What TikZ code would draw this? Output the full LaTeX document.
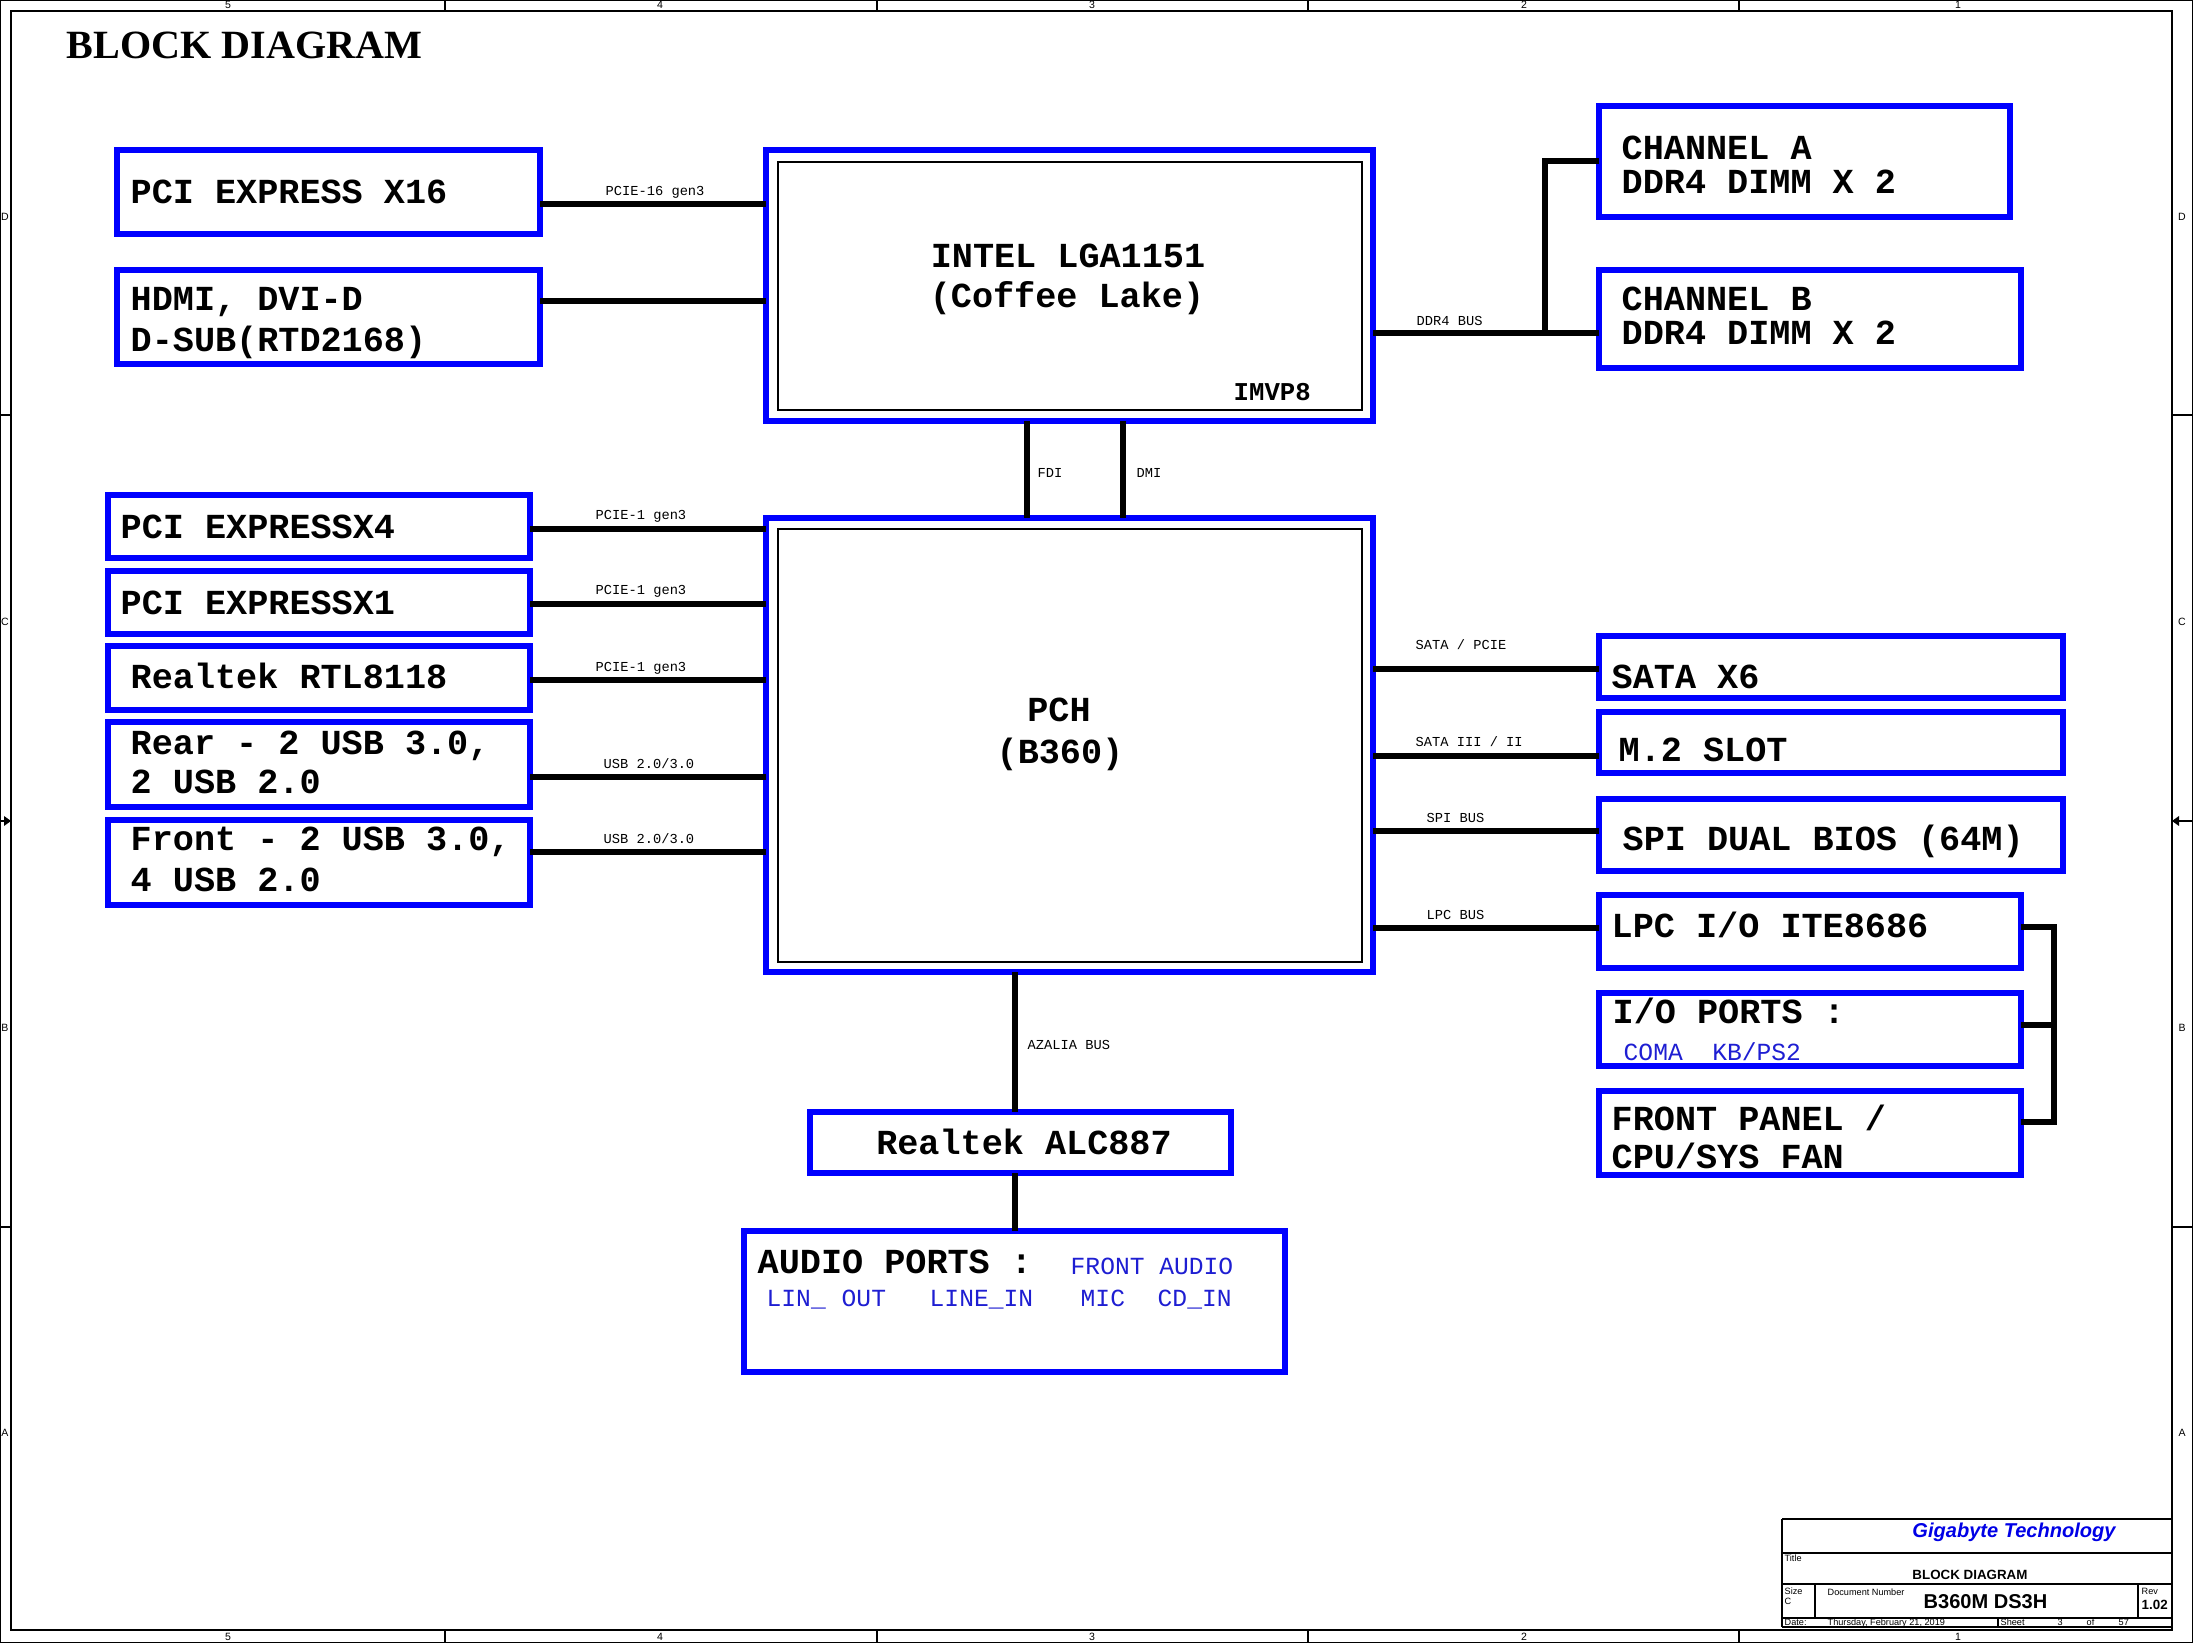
\documentclass[tikz,border=0pt]{standalone}
\usepackage{fontspec}
\usetikzlibrary{fit}
\newfontfamily\monoF{Liberation Mono}
\newfontfamily\sansF{Liberation Sans}
\newfontfamily\serifF{Liberation Serif}
\definecolor{boxblue}{RGB}{0,0,255}
\definecolor{portblue}{RGB}{30,30,210}
\definecolor{gigablue}{RGB}{0,0,230}
\tikzset{
  blk/.style={draw=boxblue, line width=1.7pt, inner sep=0pt, outer sep=0pt},
  wire/.style={line width=1.85pt, black},
  bt/.style={font=\monoF\bfseries\fontsize{10}{12}\selectfont, inner sep=0pt, text height=6.6pt, text depth=0pt, anchor=west},
  btc/.style={bt, anchor=center},
  lbl/.style={font=\monoF\fontsize{3.9}{4.5}\selectfont, inner sep=0pt, text height=2.6pt, text depth=0pt, anchor=west},
  prt/.style={font=\monoF\fontsize{7}{8}\selectfont, text=portblue, inner sep=0pt, text height=4.6pt, text depth=0pt, anchor=west},
  tb/.style={font=\sansF\fontsize{2.6}{3}\selectfont, inner sep=0pt, text height=1.9pt, text depth=0pt, anchor=west},
  fr/.style={font=\sansF\fontsize{3}{3.5}\selectfont, inner sep=0pt},
  thinln/.style={line width=0.5pt, black},
}
\begin{document}
\begin{tikzpicture}[x=0.01cm, y=-0.01cm]
\useasboundingbox (0,0) rectangle (2193,1643);
% ---------- frame ----------
\draw[thinln] (0.5,0.5) rectangle (2192.5,1642.5);
\draw[thinln] (11,11) rectangle (2172,1630);
\foreach \x in {445,877,1308,1739} {
  \draw[line width=0.3pt] (\x,0) -- (\x,11);
  \draw[line width=0.3pt] (\x,1630) -- (\x,1643);
}
\foreach \y in {415,1227} {
  \draw[line width=0.3pt] (0,\y) -- (11,\y);
  \draw[line width=0.3pt] (2172,\y) -- (2193,\y);
}
\foreach \x/\n in {228/5,660/4,1092/3,1524/2,1958/1} {
  \node[fr] (ct\n) at (\x,5) {\n};
  \node[fr] (cb\n) at (\x,1637) {\n};
}
\foreach \y/\l in {217/D,622/C,1028/B,1433/A} {
  \node[fr] (rl\l) at (5,\y) {\l};
  \node[fr] (rr\l) at (2182,\y) {\l};
}
\draw[line width=0.4pt] (0,821) -- (4,821);
\fill (4,816) -- (11,821) -- (4,826) -- cycle;
\draw[line width=0.4pt] (2193,821) -- (2179,821);
\fill (2179,816) -- (2172,821) -- (2179,826) -- cycle;
% ---------- title ----------
\node[font=\serifF\bfseries\fontsize{11.4}{13}\selectfont, inner sep=0pt, text height=7.5pt, text depth=0pt, anchor=west] (title) at (66,45) {BLOCK DIAGRAM};
% ---------- boxes ----------
\node[blk, fit={(117,150) (540,234)}] (x16) {};
\node[bt] (x16t) at (130,192) {PCI EXPRESS X16};
\node[blk, fit={(117,270) (540,364)}] (hdmi) {};
\node[bt] (hdmit1) at (130,299) {HDMI, DVI-D};
\node[bt] (hdmit2) at (130,340) {D-SUB(RTD2168)};

\node[blk, fit={(766,150) (1373,421)}] (cpu) {};
\draw[line width=0.4pt] (778,162) rectangle (1362,410);
\node[btc] (cput1) at (1068,256) {INTEL LGA1151};
\node[btc] (cput2) at (1067,296) {(Coffee Lake)};
\node[font=\monoF\bfseries\fontsize{7.3}{8}\selectfont, inner sep=0pt, text height=4.8pt, text depth=0pt, anchor=west] (imvp) at (1233,392) {IMVP8};

\node[blk, fit={(1599,106) (2010,217)}] (cha) {};
\node[bt] (chat1) at (1621,148) {CHANNEL A};
\node[bt] (chat2) at (1621,182) {DDR4 DIMM X 2};
\node[blk, fit={(1599,270) (2021,368)}] (chb) {};
\node[bt] (chbt1) at (1621,299) {CHANNEL B};
\node[bt] (chbt2) at (1621,333) {DDR4 DIMM X 2};

\node[blk, fit={(108,495) (530,558)}] (px4) {};
\node[bt] (px4t) at (120,527) {PCI EXPRESSX4};
\node[blk, fit={(108,571) (530,634)}] (px1) {};
\node[bt] (px1t) at (120,603) {PCI EXPRESSX1};
\node[blk, fit={(108,646) (530,710)}] (rtl) {};
\node[bt] (rtlt) at (130,677) {Realtek RTL8118};
\node[blk, fit={(108,722) (530,807)}] (rear) {};
\node[bt] (reart1) at (130,743) {Rear - 2 USB 3.0,};
\node[bt] (reart2) at (130,782) {2 USB 2.0};
\node[blk, fit={(108,820) (530,905)}] (front) {};
\node[bt] (frontt1) at (130,839) {Front - 2 USB 3.0,};
\node[bt] (frontt2) at (130,880) {4 USB 2.0};

\node[blk, fit={(766,518) (1373,972)}] (pch) {};
\draw[line width=0.4pt] (778,529) rectangle (1362,962);
\node[btc] (pcht1) at (1059,710) {PCH};
\node[btc] (pcht2) at (1060,752) {(B360)};

\node[blk, fit={(1599,636) (2063,698)}] (sata) {};
\node[bt] (satat) at (1611,677) {SATA X6};
\node[blk, fit={(1599,712) (2063,773)}] (m2) {};
\node[bt] (m2t) at (1618,750) {M.2 SLOT};
\node[blk, fit={(1599,799) (2063,871)}] (spi) {};
\node[bt] (spit) at (1622,839) {SPI DUAL BIOS (64M)};
\node[blk, fit={(1599,895) (2021,968)}] (lpc) {};
\node[bt] (lpct) at (1611,926) {LPC I/O ITE8686};
\node[blk, fit={(1599,993) (2021,1066)}] (io) {};
\node[bt] (iot) at (1612,1012) {I/O PORTS :};
\node[prt] (iop) at (1623,1052) {COMA\ \ KB/PS2};
\node[blk, fit={(1599,1091) (2021,1175)}] (fp) {};
\node[bt] (fpt1) at (1611,1119) {FRONT PANEL /};
\node[bt] (fpt2) at (1611,1157) {CPU/SYS FAN};

\node[blk, fit={(810,1112) (1231,1173)}] (alc) {};
\node[btc] (alct) at (1024,1143) {Realtek ALC887};
\node[blk, fit={(744,1231) (1285,1372)}] (aud) {};
\node[bt] (audt) at (757,1262) {AUDIO PORTS :};
\node[prt] (aud1) at (1070,1266) {FRONT AUDIO};
\node[prt] (aud2) at (766,1298) {LIN\_};
\node[prt] (aud3) at (841,1298) {OUT};
\node[prt] (aud4) at (929,1298) {LINE\_IN};
\node[prt] (aud5) at (1080,1298) {MIC};
\node[prt] (aud6) at (1157,1298) {CD\_IN};
% ---------- connectors ----------
\draw[wire] (x16.east |- 0,204) -- (cpu.west |- 0,204);
\node[lbl] (l1) at (605,191) {PCIE-16 gen3};
\draw[wire] (hdmi.east |- 0,301) -- (cpu.west |- 0,301);

\coordinate (ddrj) at (1545,333);
\draw[wire] (cpu.east |- ddrj) -- (chb.west |- ddrj);
\draw[wire] (cha.west |- 0,161) -| (ddrj);
\node[lbl] (l2) at (1416,321) {DDR4 BUS};

\draw[wire] (cpu.south -| 1027,0) -- (pch.north -| 1027,0);
\draw[wire] (cpu.south -| 1123,0) -- (pch.north -| 1123,0);
\node[lbl] (l3) at (1037,473) {FDI};
\node[lbl] (l4) at (1136,473) {DMI};

\draw[wire] (px4.east |- 0,529) -- (pch.west |- 0,529);
\node[lbl] (l5) at (595,515) {PCIE-1 gen3};
\draw[wire] (px1.east |- 0,604) -- (pch.west |- 0,604);
\node[lbl] (l6) at (595,590) {PCIE-1 gen3};
\draw[wire] (rtl.east |- 0,680) -- (pch.west |- 0,680);
\node[lbl] (l7) at (595,667) {PCIE-1 gen3};
\draw[wire] (rear.east |- 0,777) -- (pch.west |- 0,777);
\node[lbl] (l8) at (603,764) {USB 2.0/3.0};
\draw[wire] (front.east |- 0,852) -- (pch.west |- 0,852);
\node[lbl] (l9) at (603,839) {USB 2.0/3.0};

\draw[wire] (pch.east |- 0,669) -- (sata.west |- 0,669);
\node[lbl] (l10) at (1415,645) {SATA / PCIE};
\draw[wire] (pch.east |- 0,756) -- (m2.west |- 0,756);
\node[lbl] (l11) at (1415,742) {SATA III / II};
\draw[wire] (pch.east |- 0,831) -- (spi.west |- 0,831);
\node[lbl] (l12) at (1426,818) {SPI BUS};
\draw[wire] (pch.east |- 0,928) -- (lpc.west |- 0,928);
\node[lbl] (l13) at (1426,915) {LPC BUS};

\coordinate (lpcj) at (2054,1122);
\draw[wire] (lpc.east |- 0,927) -| (lpcj) -- (fp.east |- lpcj);
\draw[wire] (io.east |- 0,1025) -- (lpcj |- 0,1025);

\draw[wire] (pch.south -| 1015,0) -- (alc.north -| 1015,0);
\node[lbl] (l14) at (1027,1045) {AZALIA BUS};
\draw[wire] (alc.south -| 1015,0) -- (aud.north -| 1015,0);
% ---------- title block ----------
\draw[thinln] (1782,1519) -- (2172,1519);
\draw[thinln] (1782,1519) -- (1782,1627);
\draw[thinln] (1782,1553) -- (2172,1553);
\draw[thinln] (1782,1584) -- (2172,1584);
\draw[thinln] (1782,1618) -- (2172,1618);
\draw[thinln] (1782,1627) -- (2172,1627);
\draw[thinln] (1815,1584) -- (1815,1618);
\draw[thinln] (2138,1584) -- (2138,1618);
\draw[thinln] (1998,1618) -- (1998,1627);
\node[font=\sansF\bfseries\itshape\fontsize{5.7}{7}\selectfont, text=gigablue, inner sep=0pt] (giga) at (2014,1532) {Gigabyte Technology};
\node[tb] (tbt) at (1784,1558) {Title};
\node[font=\sansF\bfseries\fontsize{3.8}{4.5}\selectfont, inner sep=0pt] (tbname) at (1970,1575) {BLOCK DIAGRAM};
\node[tb] (tbs) at (1784,1591) {Size};
\node[tb] (tbc) at (1784,1601) {C};
\node[tb] (tbd) at (1827,1592) {Document Number};
\node[font=\sansF\bfseries\fontsize{5.7}{7}\selectfont, inner sep=0pt, anchor=west] (tbnum) at (1923,1602) {B360M DS3H};
\node[tb] (tbr) at (2141,1591) {Rev};
\node[font=\sansF\bfseries\fontsize{3.8}{4.5}\selectfont, inner sep=0pt, anchor=west] (tbrv) at (2141,1605) {1.02};
\node[tb] (tbdt) at (1784,1622) {Date:};
\node[tb] (tbdate) at (1827,1622) {Thursday, February 21, 2019};
\node[tb] (tbsh) at (2000,1622) {Sheet};
\node[tb] (tbsn) at (2057,1622) {3};
\node[tb] (tbof) at (2086,1622) {of};
\node[tb] (tbtot) at (2118,1622) {57};
\end{tikzpicture}
\end{document}
